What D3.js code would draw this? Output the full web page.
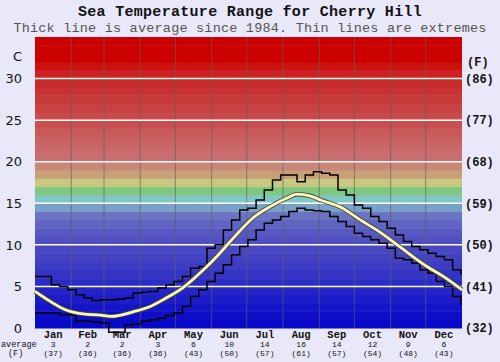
<!DOCTYPE html>
<html>
<head>
<meta charset="utf-8">
<script src="https://cdn.jsdelivr.net/npm/d3@7"></script>
<style>
  body { margin: 0; background: #e8e8f8; }
  svg { display: block; }
</style>
</head>
<body>
<div id="chart"></div>
<script>
// data
let months = ["Jan", "Feb", "Mar", "Apr", "May", "Jun", "Jul", "Aug", "Sep", "Oct", "Nov", "Dec"]
let monthDays = [31, 28, 31, 30, 31, 30, 31, 31, 30, 31, 30, 31]
let monthAvgC = [3, 2, 2, 3, 6, 10, 14, 16, 14, 12, 9, 6]
let monthAvgF = [37, 36, 36, 36, 43, 50, 57, 61, 57, 54, 48, 43]
let leftTicks = [0, 5, 10, 15, 20, 25, 30]
let rightTicks = ["(32)", "(41)", "(50)", "(59)", "(68)", "(77)", "(86)"]

// weekly extremes (one value per week, day = 7 * index)
let maxWeekly = [6.2, 6.2, 5.2, 5.0, 4.6, 4.0, 3.6, 3.3, 3.4, 3.4, 3.5, 3.6, 4.2, 4.3, 4.4, 4.8,
    5.2, 5.6, 6.2, 7.2, 7.4, 9.6, 10.0, 11.8, 13.0, 14.2, 14.4, 15.4, 16.6, 17.8, 18.4, 18.4,
    17.6, 18.4, 18.8, 18.6, 18.4, 16.6, 16.0, 14.8, 14.4, 13.4, 12.8, 12.0, 11.2, 10.4, 9.8,
    9.4, 9.0, 8.6, 8.2, 7.0, 6.4]
let minWeekly = [1.8, 1.8, 1.8, 1.6, 1.6, 0.8, 0.8, 0.7, 0.6, -0.5, -0.5, 0.4, 0.5, 0.8, 1.0, 1.2,
    1.5, 1.8, 2.6, 3.8, 4.6, 5.6, 6.6, 7.6, 8.8, 9.8, 10.6, 11.8, 12.6, 13.0, 13.4, 14.0,
    14.4, 14.2, 14.1, 14.0, 13.4, 12.8, 12.2, 11.4, 11.0, 10.6, 10.2, 9.6, 8.4, 8.2, 7.8,
    7.0, 6.6, 5.6, 5.0, 3.8, 2.8]

// average line, read at these days of year
let avgDays = [0, 13, 26, 41, 56, 65, 84, 98, 112, 126, 144, 158, 172, 186, 201, 215, 224,
    235, 244, 263, 278, 292, 306, 321, 335, 349, 365]
let avgValues = [4.4, 3.2, 2.2, 1.7, 1.55, 1.4, 1.95, 2.55, 3.6, 4.8, 7.0, 9.0, 11.2, 13.2,
    14.6, 15.6, 16.1, 15.9, 15.4, 14.4, 13.0, 11.8, 10.4, 8.8, 7.4, 6.2, 4.6]

// colour for each 1 degree band, 0..34
let bandColors = ["#0808c8", "#0e0ec8", "#1414c8", "#1c1cc8", "#2424c8", "#2c2cc6", "#3434c4",
    "#3c3cc4", "#4242c2", "#4848c2", "#5050c2", "#5858c2", "#6064c2", "#6a74c2", "#78a0c8",
    "#80c8c8", "#80c880", "#c8c880", "#c8a078", "#c88878", "#c87070", "#c86a6a", "#c86262",
    "#c85a5a", "#c85050", "#c84a4a", "#c84242", "#c83a3a", "#c83232", "#c82a2a", "#cc2222",
    "#cc1111", "#cc0000", "#cc0000", "#cc0000"]

let W = 500, H = 362
let margin = {top: 37, right: 38, bottom: 34, left: 35}
let width = W - margin.left - margin.right
let height = H - margin.top - margin.bottom

let svg = d3.select("#chart")
    .append("svg")
    .attr("width", W)
    .attr("height", H)

let mono = "'Liberation Mono', 'DejaVu Sans Mono', monospace"

svg.append("text")
    .attr("x", W / 2)
    .attr("y", 15.5)
    .attr("text-anchor", "middle")
    .style("font-family", mono)
    .style("font-weight", "bold")
    .style("font-size", "15px")
    .style("letter-spacing", "0.3px")
    .style("fill", "#111")
    .text("Sea Temperature Range for Cherry Hill")

svg.append("text")
    .attr("x", W / 2)
    .attr("y", 32)
    .attr("text-anchor", "middle")
    .style("font-family", mono)
    .style("font-size", "13.5px")
    .style("letter-spacing", "0.2px")
    .style("fill", "#555")
    .text("Thick line is average since 1984. Thin lines are extremes")

let g = svg.append("g")
    .attr("transform", "translate(" + margin.left + "," + margin.top + ")")

let x = d3.scaleLinear().domain([0, 365]).range([0, width])
let y = d3.scaleLinear().domain([0, 35]).range([height, 0])

// background bands
g.selectAll(".band")
    .data(bandColors)
    .enter()
    .append("rect")
    .attr("class", "band")
    .attr("x", 0)
    .attr("width", width)
    .attr("y", (d, i) => y(i + 1))
    .attr("height", (d, i) => y(i) - y(i + 1) + 0.5)
    .attr("fill", d => d)

// month separators
let monthStarts = []
let acc = 0
monthDays.forEach(n => { monthStarts.push(acc); acc += n })

g.selectAll(".mline")
    .data(monthStarts.slice(1))
    .enter()
    .append("line")
    .attr("x1", d => x(d))
    .attr("x2", d => x(d))
    .attr("y1", 0)
    .attr("y2", height)
    .attr("stroke", "#606060")
    .attr("stroke-opacity", 0.65)
    .attr("stroke-width", 1)

// horizontal white grid
g.selectAll(".hline")
    .data(leftTicks.slice(1))
    .enter()
    .append("line")
    .attr("x1", 0)
    .attr("x2", width)
    .attr("y1", d => y(d))
    .attr("y2", d => y(d))
    .attr("stroke", "#fff")
    .attr("stroke-width", 1.5)

// extremes
let weekLine = d3.line()
    .x((d, i) => x(Math.min(i * 7, 365)))
    .y(d => y(d))
    .curve(d3.curveStepAfter)

g.append("path")
    .datum(maxWeekly)
    .attr("d", weekLine)
    .attr("fill", "none")
    .attr("stroke", "#000")
    .attr("stroke-width", 1.5)

g.append("path")
    .datum(minWeekly)
    .attr("d", weekLine)
    .attr("fill", "none")
    .attr("stroke", "#000")
    .attr("stroke-width", 1.5)

// average
let avgData = avgDays.map((d, i) => ({day: d, value: avgValues[i]}))
let avgLine = d3.line()
    .x(d => x(d.day))
    .y(d => y(d.value))
    .curve(d3.curveMonotoneX)

g.append("path")
    .datum(avgData)
    .attr("d", avgLine)
    .attr("fill", "none")
    .attr("stroke", "#444")
    .attr("stroke-width", 4.5)

g.append("path")
    .datum(avgData)
    .attr("d", avgLine)
    .attr("fill", "none")
    .attr("stroke", "#fafab4")
    .attr("stroke-width", 2.8)

// left axis (C)
let leftAxis = g.append("g")
    .call(d3.axisLeft(y).tickValues(leftTicks).tickSize(0).tickPadding(13))
leftAxis.select(".domain").remove()
leftAxis.selectAll("text")
    .style("font-family", "'DejaVu Sans', Verdana, sans-serif")
    .style("font-size", "13px")
    .style("fill", "#111")

g.append("text")
    .attr("x", -13)
    .attr("y", 24)
    .attr("text-anchor", "end")
    .style("font-family", "'DejaVu Sans', Verdana, sans-serif")
    .style("font-size", "13px")
    .style("fill", "#111")
    .text("C")

// right axis (F)
let rightAxis = g.append("g")
    .attr("transform", "translate(" + width + ",0)")
    .call(d3.axisRight(y).tickValues(leftTicks).tickSize(0).tickPadding(3)
        .tickFormat((d, i) => rightTicks[i]))
rightAxis.select(".domain").remove()
rightAxis.selectAll("text")
    .style("font-family", mono)
    .style("font-weight", "bold")
    .style("font-size", "12px")
    .style("fill", "#111")

g.append("text")
    .attr("x", width + 5)
    .attr("y", 29)
    .style("font-family", mono)
    .style("font-weight", "bold")
    .style("font-size", "12px")
    .style("fill", "#111")
    .text("(F)")

// bottom labels
let mids = monthStarts.map((s, i) => s + monthDays[i] / 2)
let bottom = g.append("g").attr("transform", "translate(0," + height + ")")

bottom.selectAll(".mname")
    .data(months)
    .enter()
    .append("text")
    .attr("x", (d, i) => x(mids[i]))
    .attr("y", 10)
    .attr("text-anchor", "middle")
    .style("font-family", mono)
    .style("font-weight", "bold")
    .style("font-size", "10.5px")
    .style("fill", "#111")
    .text(d => d)

bottom.selectAll(".mavg")
    .data(monthAvgC)
    .enter()
    .append("text")
    .attr("x", (d, i) => x(mids[i]))
    .attr("y", 18.5)
    .attr("text-anchor", "middle")
    .style("font-family", mono)
    .style("font-size", "8px")
    .style("fill", "#111")
    .text(d => d)

bottom.selectAll(".mavgf")
    .data(monthAvgF)
    .enter()
    .append("text")
    .attr("x", (d, i) => x(mids[i]))
    .attr("y", 27.5)
    .attr("text-anchor", "middle")
    .style("font-family", mono)
    .style("font-size", "8px")
    .style("fill", "#111")
    .text(d => "(" + d + ")")

bottom.append("text")
    .attr("x", -margin.left + 1)
    .attr("y", 18.5)
    .style("font-family", mono)
    .style("font-size", "8.5px")
    .style("fill", "#111")
    .text("average")

bottom.append("text")
    .attr("x", -margin.left + 8)
    .attr("y", 27.5)
    .style("font-family", mono)
    .style("font-size", "8.5px")
    .style("fill", "#111")
    .text("(F)")
</script>
</body>
</html>
